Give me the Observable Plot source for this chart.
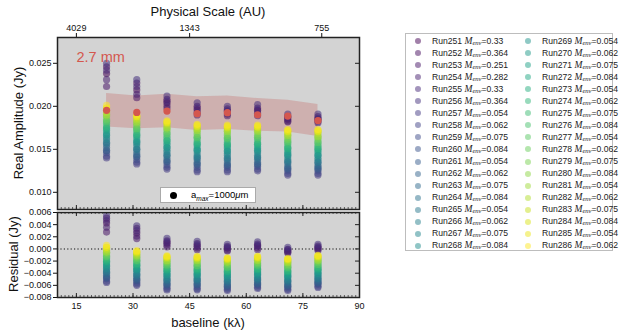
<!DOCTYPE html>
<html><head><meta charset="utf-8">
<script src="https://cdn.jsdelivr.net/npm/d3@7"></script>
<script src="https://cdn.jsdelivr.net/npm/@observablehq/plot@0.6"></script>
<style>
body{margin:0;background:#fff;font-family:"Liberation Sans",Arial,sans-serif;}
#wrap{position:relative;width:622px;height:334px;overflow:hidden;}
.abs{position:absolute;white-space:nowrap;color:#111;}
.rot{transform:translate(-50%,-50%) rotate(-90deg);}
.ctr{transform:translate(-50%,-50%);}
#legend{position:absolute;left:405px;top:33px;width:208px;height:218px;border:1px solid #bdbdbd;background:#fff;box-sizing:border-box;}
.li{position:absolute;font-size:8.6px;line-height:10px;white-space:nowrap;color:#222;}
.ld{position:absolute;width:6px;height:6px;border-radius:50%;}
#inset{position:absolute;left:160px;top:187px;width:96px;height:16px;background:#fff;border:1px solid #aaa;box-sizing:border-box;font-size:9.5px;}
</style></head>
<body><div id="wrap"></div>
<script>
// ---------- data ----------
const baselines = [23, 31, 39, 47, 55, 63, 71, 79];           // kλ
const observed  = [0.01953, 0.01929, 0.01945, 0.01914, 0.01926, 0.01902, 0.01886, 0.01835];
const bandHi    = [0.0215, 0.0212, 0.0214, 0.0211, 0.0212, 0.0209, 0.0207, 0.0202];
const bandLo    = [0.0176, 0.0174, 0.0175, 0.0172, 0.0173, 0.0171, 0.0170, 0.0165];
const runs = [251,252,253,254,255,256,257,258,259,260,261,262,263,264,265,266,267,268,
              269,270,271,272,273,274,275,276,277,278,279,280,281,282,283,284,285,286];
const masses = [0.33,0.364,0.251,0.282,0.33,0.364,
  0.054,0.062,0.075,0.084, 0.054,0.062,0.075,0.084, 0.054,0.062,0.075,0.084,
  0.054,0.062,0.075,0.084, 0.054,0.062,0.075,0.084, 0.054,0.062,0.075,0.084,
  0.054,0.062,0.075,0.084, 0.054,0.062];
// model amplitudes (Jy) per baseline, in run order 251..286
const model23 = [0.0238,0.0246,0.0223,0.0231,0.0242,0.0250,
  0.0140,0.0142,0.0146,0.0148,0.0149,0.0152,0.0155,0.0157,0.0158,0.0161,0.0163,0.0166,0.0167,0.0169,
  0.0172,0.0174,0.0175,0.0177,0.0180,0.0182,0.0183,0.0185,0.0188,0.0190,0.0190,0.0193,0.0195,0.0198,0.0198,0.0201];
const model31 = [0.0219,0.0227,0.0210,0.0214,0.0223,0.0231,
  0.0133,0.0135,0.0138,0.0141,0.0142,0.0144,0.0147,0.0150,0.0150,0.0153,0.0156,0.0158,0.0159,0.0161,
  0.0164,0.0166,0.0167,0.0169,0.0172,0.0174,0.0174,0.0177,0.0179,0.0181,0.0182,0.0184,0.0186,0.0188,0.0188,0.0190];
const model39 = [0.0204,0.0208,0.0198,0.0201,0.0206,0.0212,
  0.0127,0.0129,0.0132,0.0135,0.0136,0.0138,0.0141,0.0143,0.0144,0.0147,0.0149,0.0152,0.0152,0.0155,
  0.0157,0.0160,0.0160,0.0163,0.0165,0.0168,0.0168,0.0171,0.0173,0.0175,0.0175,0.0178,0.0180,0.0182,0.0181,0.0183];
const model47 = [0.0196,0.0200,0.0190,0.0193,0.0198,0.0204,
  0.0124,0.0126,0.0129,0.0132,0.0133,0.0135,0.0138,0.0140,0.0141,0.0143,0.0146,0.0149,0.0149,0.0151,
  0.0154,0.0156,0.0157,0.0159,0.0162,0.0164,0.0164,0.0167,0.0169,0.0172,0.0172,0.0174,0.0176,0.0178,0.0177,0.0179];
const model55 = [0.0194,0.0197,0.0189,0.0191,0.0195,0.0200,
  0.0124,0.0126,0.0129,0.0131,0.0132,0.0134,0.0137,0.0139,0.0140,0.0143,0.0145,0.0148,0.0148,0.0151,
  0.0153,0.0155,0.0156,0.0158,0.0161,0.0163,0.0163,0.0166,0.0168,0.0171,0.0171,0.0173,0.0175,0.0177,0.0176,0.0178];
const model63 = [0.0195,0.0198,0.0189,0.0192,0.0196,0.0202,
  0.0125,0.0127,0.0130,0.0132,0.0133,0.0135,0.0138,0.0140,0.0141,0.0143,0.0146,0.0148,0.0149,0.0151,
  0.0153,0.0156,0.0156,0.0158,0.0161,0.0163,0.0164,0.0166,0.0168,0.0171,0.0171,0.0173,0.0175,0.0177,0.0176,0.0178];
const model71 = [0.0185,0.0188,0.0182,0.0183,0.0187,0.0191,
  0.0120,0.0122,0.0125,0.0127,0.0128,0.0130,0.0133,0.0135,0.0136,0.0138,0.0141,0.0143,0.0144,0.0146,
  0.0148,0.0151,0.0151,0.0153,0.0156,0.0158,0.0159,0.0161,0.0163,0.0166,0.0166,0.0168,0.0170,0.0172,0.0171,0.0173];
const model79 = [0.0185,0.0188,0.0181,0.0183,0.0186,0.0191,
  0.0120,0.0122,0.0125,0.0127,0.0128,0.0130,0.0132,0.0135,0.0135,0.0138,0.0140,0.0143,0.0143,0.0146,
  0.0148,0.0150,0.0151,0.0153,0.0155,0.0158,0.0158,0.0161,0.0163,0.0165,0.0165,0.0168,0.0170,0.0172,0.0171,0.0173];
const xTicks = [15, 30, 45, 60, 75, 90];
const scaleBaselines = [15, 45, 80];
const scaleLabels = ["4029", "1343", "755"];
const ampTicks = [0.010, 0.015, 0.020, 0.025];
const resTicks = [-0.008, -0.006, -0.004, -0.002, 0, 0.002, 0.004, 0.006];

// ---------- tables ----------
const models = [model23, model31, model39, model47, model55, model63, model71, model79];
const modelRows = [];
baselines.forEach((b, bi) => runs.forEach((r, ri) => {
  modelRows.push({baseline: b, run: r, amp: models[bi][ri], resid: models[bi][ri] - observed[bi]});
}));
const obsRows = baselines.map((b, i) => ({baseline: b, amp: observed[i], hi: bandHi[i], lo: bandLo[i]}));
const xMinor = d3.range(10, 91, 1);

const font = '"Liberation Sans", Arial, sans-serif';
const red = "#d4574e";
const bg = "#d3d3d3";
const colorOpt = {type: "linear", scheme: "viridis", domain: d3.extent(runs)};

const W = 380, topH = 210, H1 = topH - 37 - 1, PW = W - 57 - 21;
const topPlot = Plot.plot({
  width: W, height: topH, marginLeft: 57, marginRight: 21, marginTop: 37, marginBottom: 1,
  x: {domain: [10, 90], axis: null}, y: {domain: [0.008, 0.028], axis: null},
  color: colorOpt,
  style: {fontFamily: font, fontSize: "9px", color: "#111", background: "transparent", overflow: "visible"},
  marks: [
    Plot.frame({fill: bg}),
    Plot.areaY(obsRows, {x: "baseline", y1: "lo", y2: "hi", fill: "#c0504d", fillOpacity: 0.27}),
    Plot.dot(modelRows, {x: "baseline", y: "amp", fill: "run", r: 3.6, fillOpacity: 0.55}),
    Plot.dot(obsRows, {x: "baseline", y: "amp", fill: red, r: 3.6}),
    Plot.text(["2.7 mm"], {frameAnchor: "top-left", textAnchor: "start", lineAnchor: "top", dx: 19, dy: 14, fill: red, fontSize: 14.5}),
    Plot.axisY({ticks: ampTicks, tickFormat: d3.format(".3f"), tickSize: 4, tickPadding: 2, label: null}),
    Plot.tickY(ampTicks, {y: d => d, insetLeft: PW - 4, stroke: "#222"}),
    Plot.axisX({anchor: "top", ticks: scaleBaselines, tickFormat: d => scaleLabels[scaleBaselines.indexOf(d)], tickSize: 5, tickPadding: 2, label: null}),
    Plot.tickX(xTicks, {x: d => d, insetTop: H1 - 4, stroke: "#222"}),
    Plot.tickX(xMinor, {x: d => d, insetTop: H1 - 2, stroke: "#222", strokeWidth: 0.7}),
    Plot.frame({stroke: "#222", strokeWidth: 1.5})
  ]
});

const botH = 124, H2 = botH - 2 - 37;
const botPlot = Plot.plot({
  width: W, height: botH, marginLeft: 57, marginRight: 21, marginTop: 2, marginBottom: 37,
  x: {domain: [10, 90], axis: null}, y: {domain: [-0.008, 0.006], axis: null},
  color: colorOpt,
  style: {fontFamily: font, fontSize: "9px", color: "#111", background: "transparent", overflow: "visible"},
  marks: [
    Plot.frame({fill: bg}),
    Plot.ruleY([0], {stroke: "#111", strokeDasharray: "1.2,2.2", strokeWidth: 1.1}),
    Plot.dot(modelRows, {x: "baseline", y: "resid", fill: "run", r: 3.6, fillOpacity: 0.55}),
    Plot.axisY({ticks: resTicks, tickFormat: d3.format(".3f"), tickSize: 4, tickPadding: 2, label: null}),
    Plot.tickY(resTicks, {y: d => d, insetLeft: PW - 4, stroke: "#222"}),
    Plot.axisX({anchor: "bottom", ticks: xTicks, tickSize: 0, tickPadding: 5, label: null}),
    Plot.tickX(xTicks, {x: d => d, insetTop: H2 - 4, stroke: "#222"}),
    Plot.tickX(xTicks, {x: d => d, insetBottom: H2 - 4, stroke: "#222"}),
    Plot.tickX(xMinor, {x: d => d, insetTop: H2 - 2, stroke: "#222", strokeWidth: 0.7}),
    Plot.tickX(xMinor, {x: d => d, insetBottom: H2 - 2, stroke: "#222", strokeWidth: 0.7}),
    Plot.frame({stroke: "#222", strokeWidth: 1.5})
  ]
});

const wrap = document.getElementById("wrap");
topPlot.style.position = "absolute"; topPlot.style.left = "0px"; topPlot.style.top = "0px";
botPlot.style.position = "absolute"; botPlot.style.left = "0px"; botPlot.style.top = "210px";
wrap.appendChild(topPlot); wrap.appendChild(botPlot);

function addText(html, x, y, cls, size) {
  const d = document.createElement("div");
  d.className = "abs " + cls;
  d.style.left = x + "px"; d.style.top = y + "px"; d.style.fontSize = size + "px";
  d.innerHTML = html;
  wrap.appendChild(d);
}
addText("Physical Scale (AU)", 208, 11, "ctr", 13);
addText("baseline (k&lambda;)", 208, 322, "ctr", 13);
addText("Real Amplitude (Jy)", 18, 123, "rot", 13);
addText("Residual (Jy)", 13, 254, "rot", 13);

// inset legend
const inset = document.createElement("div");
inset.id = "inset";
inset.innerHTML = '<div style="position:absolute;left:9px;top:4px;width:7px;height:7px;border-radius:50%;background:#000"></div>' +
  '<div style="position:absolute;left:30px;top:1px;white-space:nowrap">a<sub style="font-style:italic;font-size:6.5px">max</sub>=1000<i>&mu;</i>m</div>';
wrap.appendChild(inset);

// run legend
const color = topPlot.scale("color");
const leg = document.createElement("div");
leg.id = "legend";
runs.forEach((r, i) => {
  const col = i < 18 ? 0 : 1, row = i % 18;
  const cy = 40 + row * 12.05 - 33;
  const dot = document.createElement("div");
  dot.className = "ld";
  dot.style.left = (col ? 527 - 405 - 3 : 417 - 405 - 3) + "px";
  dot.style.top = (cy - 3) + "px";
  dot.style.background = color.apply(r);
  dot.style.opacity = 0.5;
  leg.appendChild(dot);
  const t = document.createElement("div");
  t.className = "li";
  t.style.left = (col ? 541 - 405 : 431 - 405) + "px";
  t.style.top = (cy - 5.5) + "px";
  t.innerHTML = "Run" + r + ' <i style="font-family:\'Liberation Serif\',serif;font-size:9.5px">M</i><sub style="font-family:\'Liberation Serif\',serif;font-style:italic;font-size:6.5px;vertical-align:-1px">env</sub>=' + masses[i];
  leg.appendChild(t);
});
wrap.appendChild(leg);
</script></body></html>
